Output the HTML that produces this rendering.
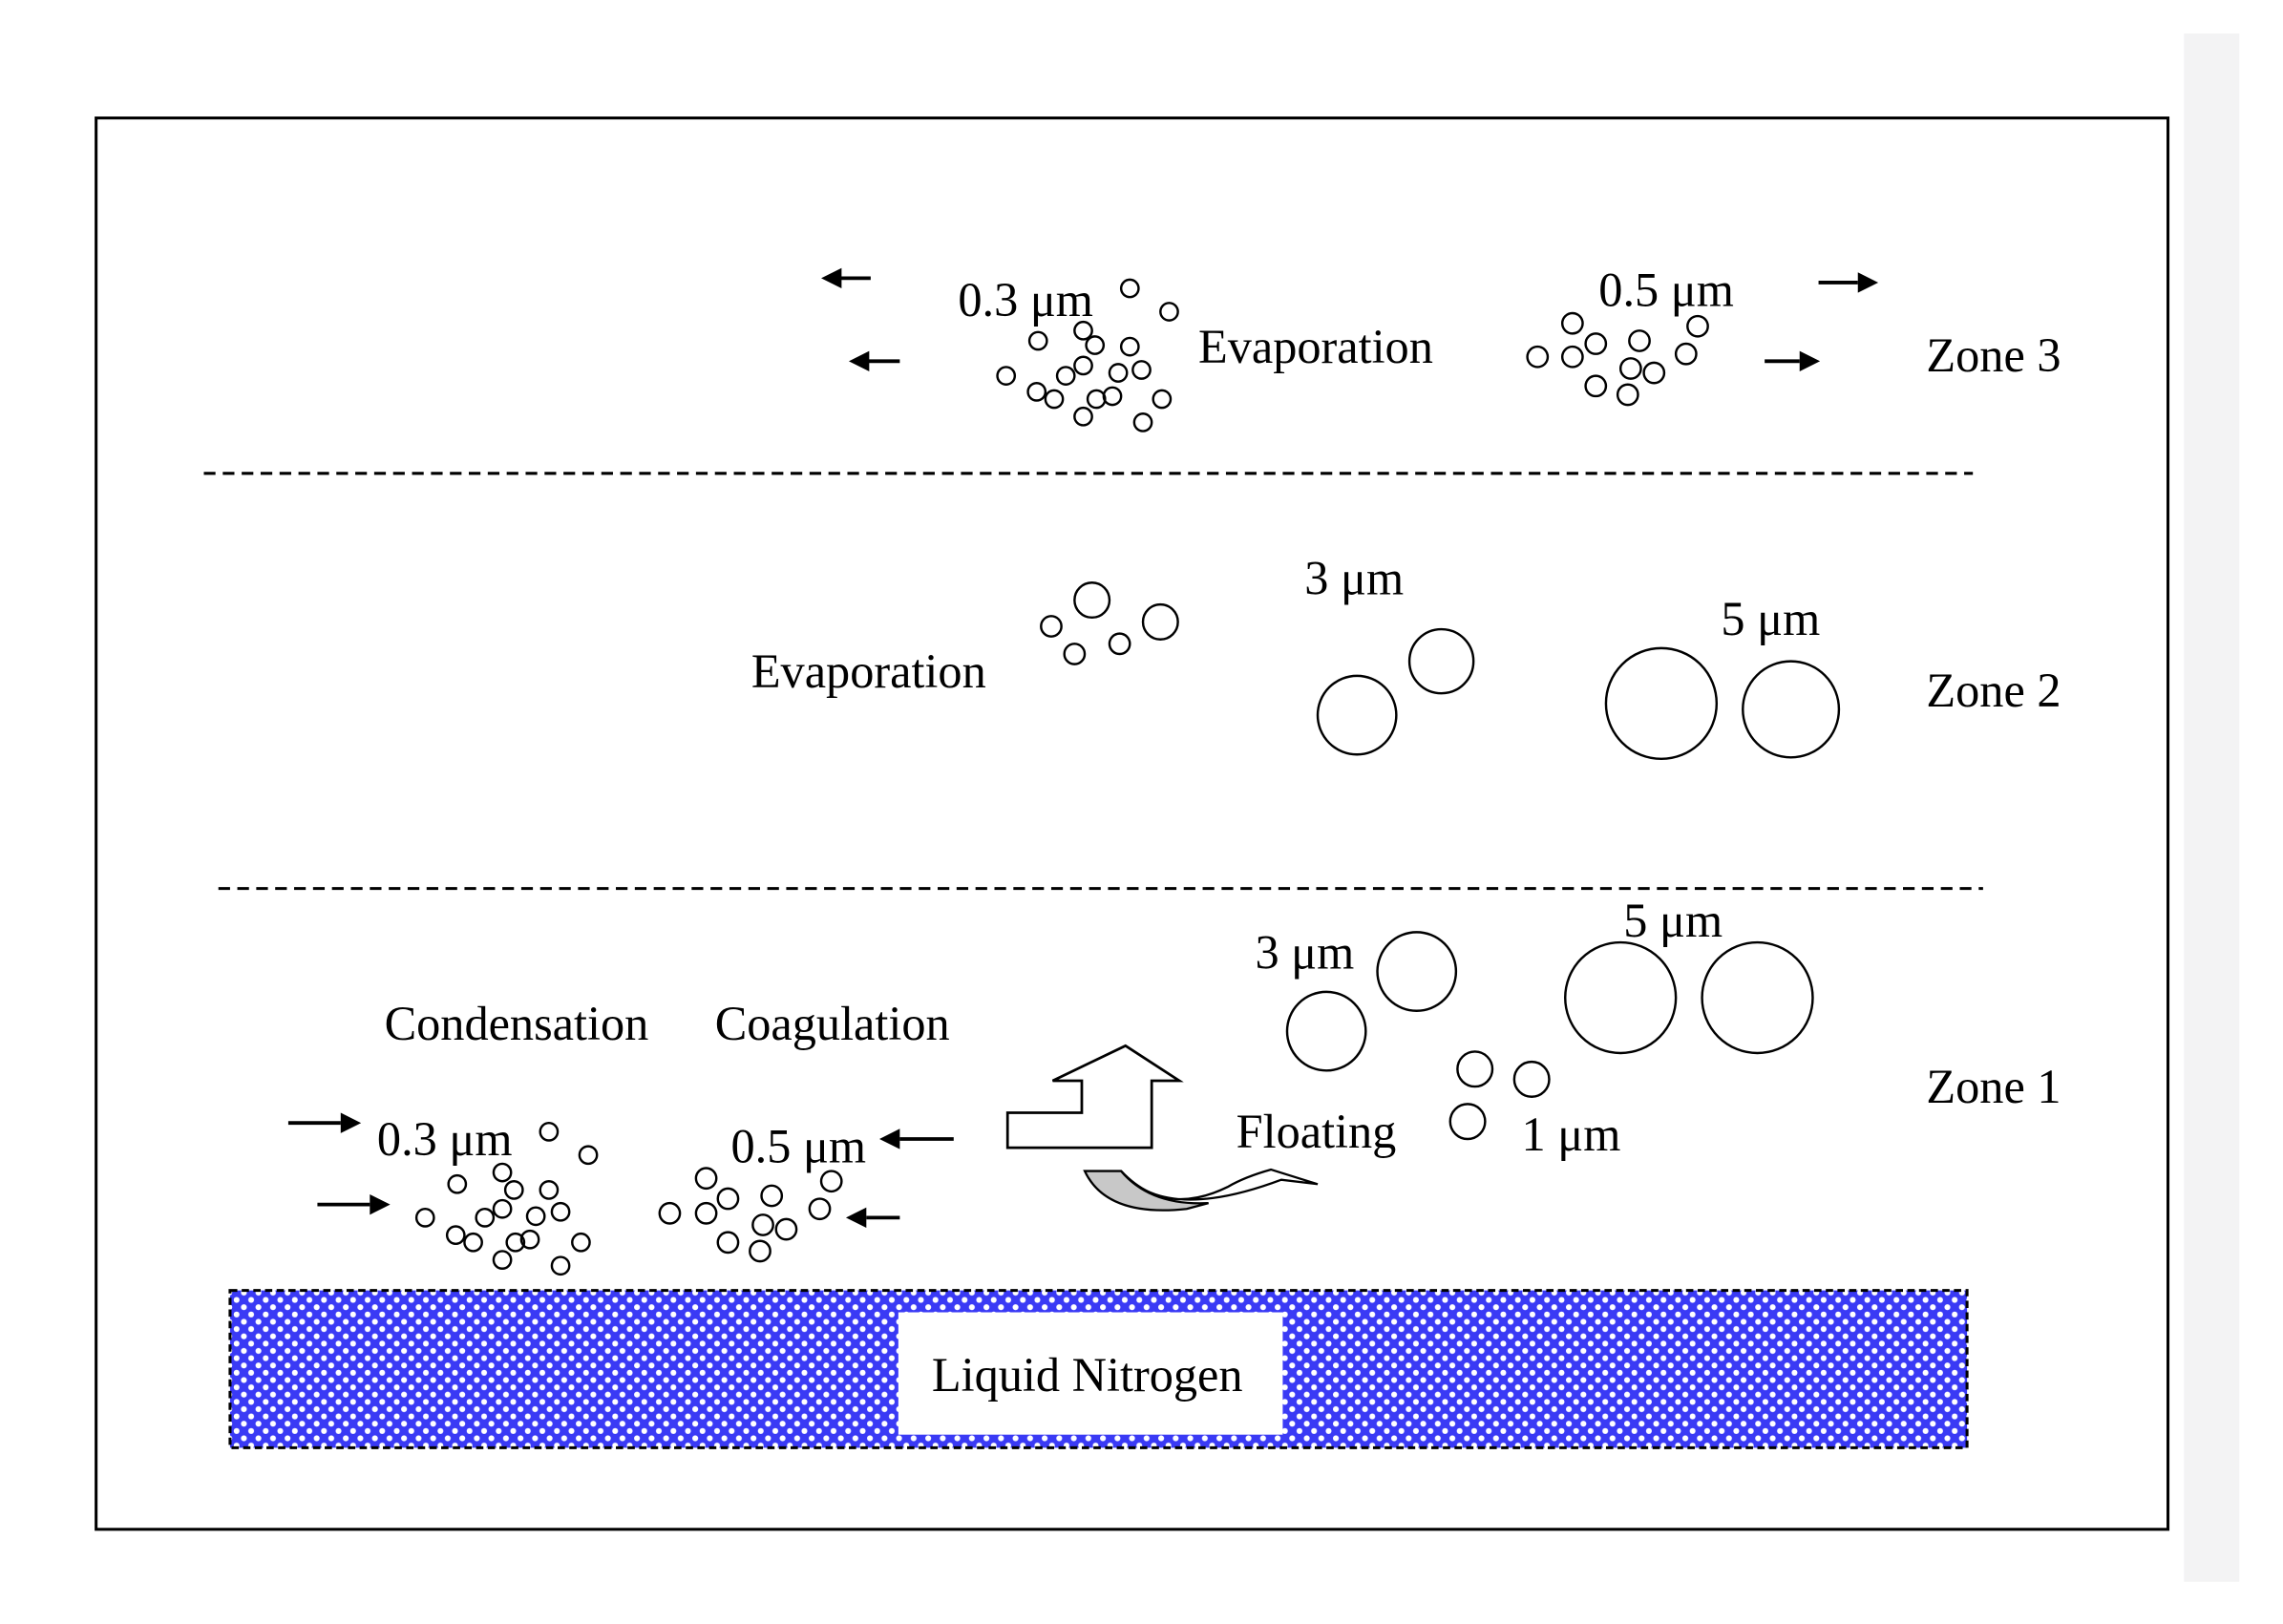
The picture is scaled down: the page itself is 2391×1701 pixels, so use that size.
<!DOCTYPE html>
<html><head><meta charset="utf-8"><style>html,body{margin:0;padding:0;background:#fff}svg{display:block}</style></head>
<body>
<svg width="2391" height="1701" viewBox="0 0 1568 1115" preserveAspectRatio="none" xmlns="http://www.w3.org/2000/svg" font-family="Liberation Serif, serif" font-size="33" fill="#000">
<defs>
<pattern id="ln" width="10" height="10" patternUnits="userSpaceOnUse">
<rect width="10" height="10" fill="#3a3af5"/>
<circle cx="2.5" cy="2.5" r="2" fill="#fff"/>
<circle cx="7.5" cy="7.5" r="2" fill="#fff"/>
</pattern>
</defs>
<rect x="1500" y="23" width="38" height="1063" fill="#f3f3f4"/>
<rect x="66" y="81" width="1423" height="969" fill="none" stroke="#000" stroke-width="2"/>
<line x1="140" y1="325" x2="1355" y2="325" stroke="#000" stroke-width="2" stroke-dasharray="8,5"/>
<line x1="150" y1="610" x2="1362" y2="610" stroke="#000" stroke-width="2" stroke-dasharray="8,5"/>
<rect x="158" y="886" width="1193" height="108" fill="url(#ln)" stroke="#000" stroke-width="2" stroke-dasharray="5,3"/>
<rect x="617" y="901" width="264" height="84" fill="#fff"/>
<text x="640" y="955">Liquid Nitrogen</text>
<text x="1323" y="255">Zone 3</text>
<text x="1323" y="485">Zone 2</text>
<text x="1323" y="757">Zone 1</text>
<text x="658" y="217">0.3 μm</text>
<text x="823" y="249">Evaporation</text>
<text x="1098" y="210">0.5 μm</text>
<g fill="none" stroke="#000" stroke-width="1.6">
<circle cx="776" cy="198" r="6"/><circle cx="803" cy="214" r="6"/><circle cx="744" cy="227" r="6"/><circle cx="713" cy="234" r="6"/><circle cx="752" cy="237" r="6"/><circle cx="776" cy="238" r="6"/><circle cx="744" cy="251" r="6"/><circle cx="768" cy="256" r="6"/><circle cx="784" cy="254" r="6"/><circle cx="732" cy="258" r="6"/><circle cx="691" cy="258" r="6"/><circle cx="712" cy="269" r="6"/><circle cx="724" cy="274" r="6"/><circle cx="753" cy="274" r="6"/><circle cx="764" cy="272" r="6"/><circle cx="798" cy="274" r="6"/><circle cx="744" cy="286" r="6"/><circle cx="785" cy="290" r="6"/>
<circle cx="1080" cy="222" r="7"/><circle cx="1166" cy="224" r="7"/><circle cx="1096" cy="236" r="7"/><circle cx="1126" cy="234" r="7"/><circle cx="1056" cy="245" r="7"/><circle cx="1080" cy="245" r="7"/><circle cx="1158" cy="243" r="7"/><circle cx="1120" cy="253" r="7"/><circle cx="1136" cy="256" r="7"/><circle cx="1096" cy="265" r="7"/><circle cx="1118" cy="271" r="7"/>
<circle cx="750" cy="412" r="12"/><circle cx="722" cy="430" r="7"/><circle cx="797" cy="427" r="12"/><circle cx="738" cy="449" r="7"/><circle cx="769" cy="442" r="7"/>
<circle cx="932" cy="491" r="27"/><circle cx="990" cy="454" r="22"/><circle cx="1141" cy="483" r="38"/><circle cx="1230" cy="487" r="33"/>
<circle cx="973" cy="667" r="27"/><circle cx="911" cy="708" r="27"/><circle cx="1113" cy="685" r="38"/><circle cx="1207" cy="685" r="38"/>
<circle cx="1013" cy="734" r="12"/><circle cx="1052" cy="741" r="12"/><circle cx="1008" cy="770" r="12"/>
<circle cx="377" cy="777" r="6"/><circle cx="404" cy="793" r="6"/><circle cx="345" cy="805" r="6"/><circle cx="314" cy="813" r="6"/><circle cx="353" cy="817" r="6"/><circle cx="377" cy="817" r="6"/><circle cx="345" cy="830" r="6"/><circle cx="368" cy="835" r="6"/><circle cx="385" cy="832" r="6"/><circle cx="333" cy="836" r="6"/><circle cx="292" cy="836" r="6"/><circle cx="313" cy="848" r="6"/><circle cx="325" cy="853" r="6"/><circle cx="354" cy="853" r="6"/><circle cx="364" cy="851" r="6"/><circle cx="399" cy="853" r="6"/><circle cx="345" cy="865" r="6"/><circle cx="385" cy="869" r="6"/>
<circle cx="485" cy="809" r="7"/><circle cx="571" cy="811" r="7"/><circle cx="500" cy="823" r="7"/><circle cx="530" cy="821" r="7"/><circle cx="460" cy="833" r="7"/><circle cx="485" cy="833" r="7"/><circle cx="563" cy="830" r="7"/><circle cx="524" cy="841" r="7"/><circle cx="540" cy="844" r="7"/><circle cx="500" cy="853" r="7"/><circle cx="522" cy="859" r="7"/>
</g>
<text x="516" y="472">Evaporation</text>
<text x="896" y="408">3 μm</text>
<text x="1182" y="436">5 μm</text>
<text x="264" y="714">Condensation</text>
<text x="491" y="714">Coagulation</text>
<text x="862" y="665">3 μm</text>
<text x="1115" y="643">5 μm</text>
<text x="849" y="788">Floating</text>
<text x="1045" y="790">1 μm</text>
<text x="259" y="793">0.3 μm</text>
<text x="502" y="798">0.5 μm</text>
<g stroke="#000" stroke-width="2.5" fill="#000">
<line x1="598" y1="191" x2="575" y2="191"/><polygon points="564,191 578,184 578,198" stroke="none"/>
<line x1="618" y1="248" x2="595" y2="248"/><polygon points="583,248 597,241 597,255" stroke="none"/>
<line x1="1249" y1="194" x2="1276" y2="194"/><polygon points="1290,194 1276,187 1276,201" stroke="none"/>
<line x1="1212" y1="248" x2="1236" y2="248"/><polygon points="1250,248 1236,241 1236,255" stroke="none"/>
<line x1="198" y1="771" x2="234" y2="771"/><polygon points="248,771 234,764 234,778" stroke="none"/>
<line x1="218" y1="827" x2="254" y2="827"/><polygon points="268,827 254,820 254,834" stroke="none"/>
<line x1="655" y1="782" x2="618" y2="782"/><polygon points="604,782 618,775 618,789" stroke="none"/>
<line x1="618" y1="836" x2="595" y2="836"/><polygon points="581,836 595,829 595,843" stroke="none"/>
</g>
<polygon points="692,764 743,764 743,742 723,742 773,718 810,742 791,742 791,788 692,788" fill="#fff" stroke="#000" stroke-width="1.8"/>
<path d="M745,804 L770,804 Q790,828 830,826 L815,830 Q760,836 745,804 Z" fill="#c8c8c8" stroke="#000" stroke-width="1.5"/>
<path d="M770,804 Q800,840 880,810 L905,813 L873,803 Q855,808 843,815 Q800,836 770,804" fill="#fff" stroke="#000" stroke-width="1.5"/>
</svg>
</body></html>
